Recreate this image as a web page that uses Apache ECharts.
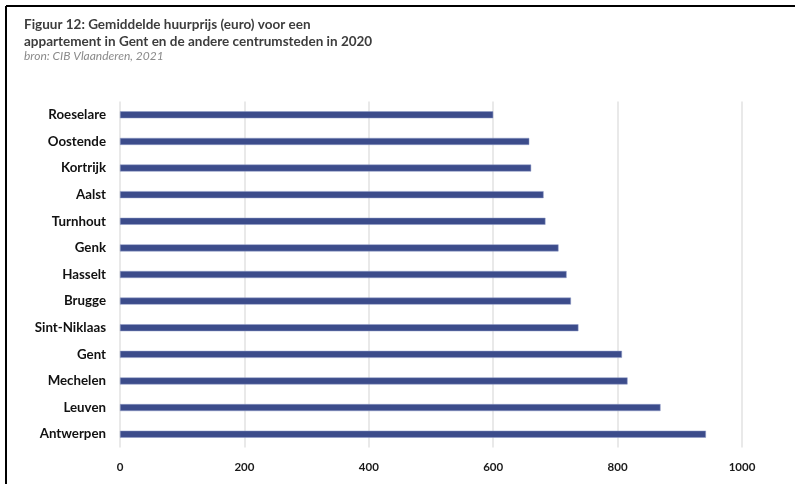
<!DOCTYPE html>
<html>
<head>
<meta charset="utf-8">
<script src="https://cdn.jsdelivr.net/npm/echarts@6/dist/echarts.min.js"></script>
<style>
html,body{margin:0;padding:0;background:#fff;}
#c{width:795px;height:484px;}
</style>
</head>
<body>
<div id="c"></div>
<script>
const categories = ["Roeselare","Oostende","Kortrijk","Aalst","Turnhout","Genk","Hasselt","Brugge","Sint-Niklaas","Gent","Mechelen","Leuven","Antwerpen"];
const values = [600, 658, 661, 681, 684, 705, 718, 725, 737, 807, 816, 869, 942];
const xTicks = [0, 200, 400, 600, 800, 1000];

const chart = echarts.init(document.getElementById('c'), null, {renderer: 'canvas'});
chart.setOption({
  animation: false,
  backgroundColor: '#ffffff',
  title: [
    {
      text: 'Figuur 12: Gemiddelde huurprijs (euro) voor een\nappartement in Gent en de andere centrumsteden in 2020',
      left: 19, top: 11,
      textStyle: {fontFamily: 'Lato', fontWeight: 'bold', fontSize: 13.5, color: '#3d3d3d', lineHeight: 17}
    },
    {
      text: 'bron: CIB Vlaanderen, 2021',
      left: 19, top: 45,
      textStyle: {fontFamily: 'Lato', fontStyle: 'italic', fontWeight: 'normal', fontSize: 12, color: '#8a8a8a'}
    }
  ],
  graphic: [
    {type: 'line', shape: {x1: 6, y1: 6, x2: 795, y2: 6}, style: {stroke: '#000', lineWidth: 2}},
    {type: 'line', shape: {x1: 6, y1: 6, x2: 6, y2: 484}, style: {stroke: '#000', lineWidth: 2}}
  ],
  grid: {left: 120, right: 53, top: 101.5, bottom: 36.5, containLabel: false},
  xAxis: {
    type: 'value', min: xTicks[0], max: xTicks[xTicks.length - 1], interval: 200,
    axisLine: {show: false}, axisTick: {show: false},
    splitLine: {show: true, lineStyle: {color: '#e2e2e2', width: 1.5}},
    axisLabel: {margin: 14, fontFamily: 'Lato', fontWeight: 'bold', fontSize: 11.5, color: '#1a1a1a',
      formatter: function (v) { return String(v); }}
  },
  yAxis: {
    type: 'category', data: categories, inverse: true,
    axisLine: {show: false}, axisTick: {show: false},
    axisLabel: {margin: 14, fontFamily: 'Lato', fontWeight: 'bold', fontSize: 13.3, color: '#111'}
  },
  series: [{
    type: 'bar', data: values, barWidth: 7,
    itemStyle: {color: '#3c4c8b', borderColor: '#8f9bc6', borderWidth: 0.5}
  }]
});
</script>
</body>
</html>
